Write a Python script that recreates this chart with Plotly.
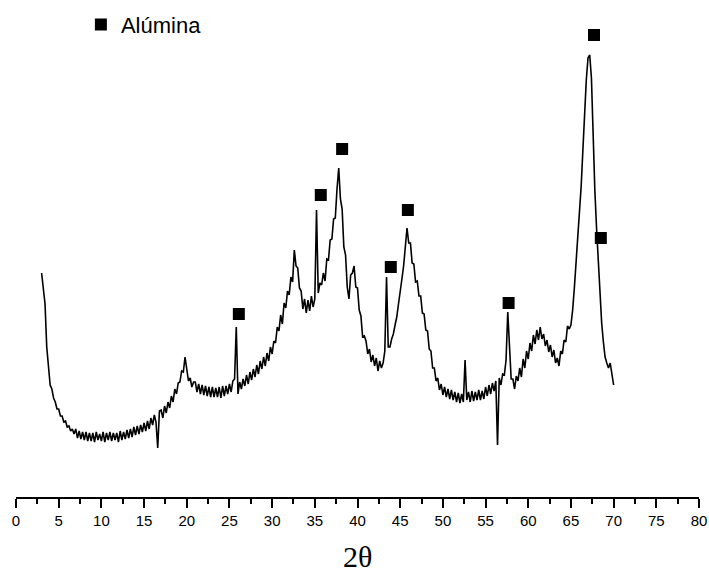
import numpy as np
import plotly.graph_objects as go

# 2-theta sampling grid (degrees) for the diffractogram
two_theta_start = 3.0
two_theta_step = 0.2

# Intensity (arbitrary units), one row per 2 degrees
intensity = [
    224, 211, 193, 150, 128, 112, 108, 99, 95, 88,        # 3.0 - 4.8
    88, 81, 81, 75, 76, 70, 71, 66, 68, 63,               # 5.0 - 6.8
    68, 59, 66, 58, 65, 57, 65, 56, 64, 56,               # 7.0 - 8.8
    64, 55, 65, 57, 63, 56, 65, 55, 64, 57,               # 9.0 - 10.8
    65, 56, 64, 57, 64, 55, 66, 57, 65, 58,               # 11.0 - 12.8
    67, 59, 68, 60, 70, 62, 71, 63, 72, 65,               # 13.0 - 14.8
    74, 66, 76, 68, 79, 72, 82, 75, 49, 86,               # 15.0 - 16.8
    87, 79, 91, 84, 95, 89, 101, 95, 108, 103,            # 17.0 - 18.8
    114, 115, 126, 125, 140, 129, 116, 119, 110, 115,     # 19.0 - 20.8
    115, 105, 113, 103, 112, 102, 111, 101, 110, 100,     # 21.0 - 22.8
    110, 100, 109, 100, 110, 99, 111, 101, 111, 103,      # 23.0 - 24.8
    113, 105, 116, 118, 170, 103, 115, 108, 118, 111,     # 25.0 - 26.8
    122, 113, 125, 117, 128, 120, 132, 123, 136, 128,     # 27.0 - 28.8
    140, 131, 144, 136, 150, 143, 156, 154, 170, 166,     # 29.0 - 30.8
    182, 173, 194, 189, 206, 202, 220, 215, 247, 231,     # 31.0 - 32.8
    229, 209, 206, 188, 198, 184, 197, 186, 201, 190,     # 33.0 - 34.8
    198, 287, 204, 214, 212, 224, 216, 238, 237, 257,     # 35.0 - 36.8
    258, 278, 279, 308, 329, 298, 288, 250, 242, 210,     # 37.0 - 38.8
    198, 222, 224, 231, 210, 209, 187, 181, 160, 161,     # 39.0 - 40.8
    156, 143, 148, 135, 142, 131, 139, 126, 136, 129,     # 41.0 - 42.8
    134, 146, 220, 150, 150, 158, 163, 172, 180, 193,     # 43.0 - 44.8
    204, 218, 231, 248, 269, 254, 254, 234, 233, 215,     # 45.0 - 46.8
    216, 201, 201, 184, 183, 167, 166, 148, 146, 129,     # 47.0 - 48.8
    129, 116, 119, 107, 113, 102, 110, 100, 108, 98,      # 49.0 - 50.8
    107, 97, 105, 95, 104, 94, 103, 95, 137, 97,          # 51.0 - 52.8
    105, 95, 106, 96, 105, 97, 107, 97, 106, 98,          # 53.0 - 54.8
    110, 101, 112, 103, 114, 106, 116, 52, 119, 112,      # 55.0 - 56.8
    123, 122, 137, 185, 150, 118, 118, 108, 121, 116,     # 57.0 - 58.8
    129, 120, 138, 129, 146, 138, 154, 146, 162, 153,     # 59.0 - 60.8
    167, 157, 170, 158, 163, 151, 157, 145, 152, 140,     # 61.0 - 62.8
    147, 134, 139, 131, 146, 143, 157, 155, 171, 168,     # 63.0 - 64.8
    172, 187, 209, 235, 257, 284, 311, 347, 390, 417,     # 65.0 - 66.8
    439, 442, 419, 352, 307, 269, 235, 204, 174, 155,     # 67.0 - 68.8
    140, 134, 129, 134, 120, 112,                         # 69.0 - 70.0
]

# Alumina reflections marked with squares (2-theta, marker height)
alumina_2theta = [26.1, 35.7, 38.2, 43.9, 45.9, 57.7, 67.7, 68.5]
alumina_height = [183, 302, 348, 230, 287, 194, 462, 259]

x_ticks = list(range(0, 81, 5))
x_label = "2θ"
legend_label = "Alúmina"

two_theta = np.round(two_theta_start + two_theta_step * np.arange(len(intensity)), 1)

fig = go.Figure()
fig.add_trace(go.Scatter(
    x=two_theta, y=intensity, mode="lines",
    line=dict(color="black", width=1.6),
    showlegend=False, hoverinfo="skip",
))
fig.add_trace(go.Scatter(
    x=alumina_2theta, y=alumina_height, mode="markers",
    marker=dict(symbol="square", size=12, color="black"),
    name=legend_label, showlegend=True,
))

fig.update_layout(
    width=709, height=575,
    margin=dict(l=16, r=10, t=20, b=78, autoexpand=False),
    paper_bgcolor="white", plot_bgcolor="white",
    font=dict(family="Arial, Liberation Sans, sans-serif", color="black"),
    xaxis=dict(
        range=[0, 80], tickvals=x_ticks, ticktext=[str(t) for t in x_ticks],
        showline=True, linecolor="black", linewidth=1.5,
        ticks="outside", ticklen=9, tickwidth=1.5, tickcolor="black",
        minor=dict(ticks="outside", ticklen=5, tickwidth=1.5, tickcolor="black", dtick=2.5),
        showgrid=False, zeroline=False, automargin=False,
        tickfont=dict(size=15, family="Arial, Liberation Sans, sans-serif"),
    ),
    yaxis=dict(range=[0, 477], visible=False, showgrid=False, zeroline=False,
               automargin=False),
    legend=dict(
        x=0.095, y=0.99, xanchor="left", yanchor="middle",
        bgcolor="rgba(0,0,0,0)", font=dict(size=22),
        itemwidth=30,
    ),
    annotations=[dict(
        text=x_label, xref="paper", yref="paper", x=0.5, y=-0.124,
        xanchor="center", yanchor="middle", showarrow=False,
        font=dict(size=30, family="Liberation Serif, Times New Roman, serif"),
    )],
)

fig.write_html("out.html")
